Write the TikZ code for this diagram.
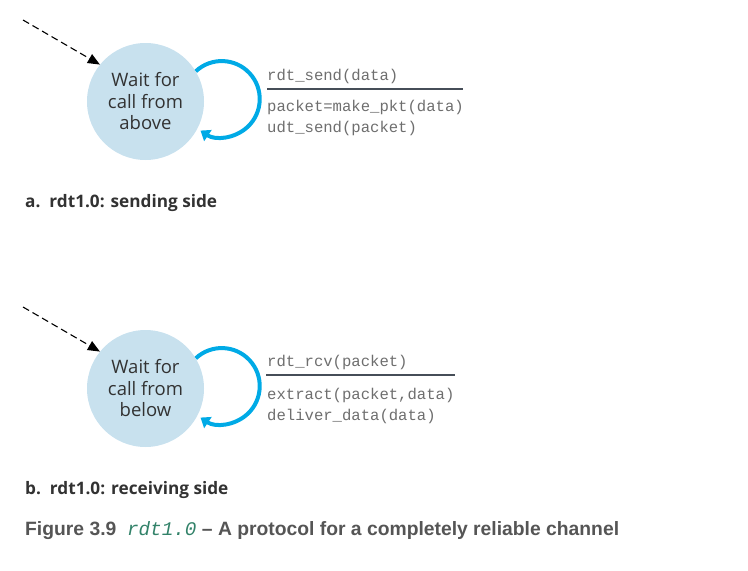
\documentclass[tikz,border=0pt]{standalone}
\usepackage{fontspec}
\setmainfont{Open Sans}
\newfontfamily\capfont{Liberation Sans}
\setmonofont{Liberation Mono}
\usetikzlibrary{arrows.meta}
\definecolor{statefill}{RGB}{200,225,238}
\definecolor{loopblue}{RGB}{0,170,230}
\definecolor{codegray}{RGB}{110,110,110}
\definecolor{textgray}{RGB}{50,50,50}
\definecolor{rulegray}{RGB}{70,78,88}
\definecolor{capgray}{RGB}{85,85,85}
\definecolor{capgreen}{RGB}{50,130,105}
\begin{document}
\begin{tikzpicture}
    [ x=1pt, y=-1pt
    , state/.style={circle,fill=statefill,minimum size=117pt,inner sep=0pt,
        align=center,text=textgray,font=\fontsize{18.5}{21.5}\selectfont}
    , selfloop/.style={draw=loopblue,line width=4pt,-{Triangle[length=9pt,width=13pt]}}
    , entry/.style={draw=black,line width=1.1pt,dash pattern=on 7pt off 4pt,
        -{Triangle[length=12pt,width=10pt]}}
    , code/.style={anchor=base west,inner sep=0pt,text=codegray,
        font=\ttfamily\fontsize{15.6}{18}\selectfont}
    , sidelabel/.style={anchor=base west,inner sep=0pt,text=textgray,
        font=\bfseries\fontsize{17.2}{20}\selectfont}
    ]

    \useasboundingbox (0,0) rectangle (748,571);

    % sending side
    \node [state] (sa) at (145.5,101.5) {Wait for\\call from\\above};
    \coordinate (ina) at (23,20);
    \draw [entry] (ina) -- (sa.141);
    \draw [selfloop] (sa.31) arc [start angle=-133, end angle=124, radius=38];

    \node [code] (evta) at (267,80) {rdt\_send(data)};
    \node [code] (acta1) at (267,111) {packet=make\_pkt(data)};
    \node [code] (acta2) at (267,132) {udt\_send(packet)};
    \coordinate (rula) at (267,89);
    \draw [rulegray, line width=1.4pt] (rula) -- ++(196,0);

    \node [sidelabel] (laba) at (25,207) {a.\ \ rdt1.0: sending side};

    % receiving side
    \node [state] (sb) at (145.5,388.5) {Wait for\\call from\\below};
    \coordinate (inb) at (23,307);
    \draw [entry] (inb) -- (sb.141);
    \draw [selfloop] (sb.31) arc [start angle=-133, end angle=124, radius=38];

    \node [code] (evtb) at (267,366) {rdt\_rcv(packet)};
    \node [code] (actb1) at (267,399) {extract(packet,data)};
    \node [code] (actb2) at (267,420) {deliver\_data(data)};
    \coordinate (rulb) at (266,375);
    \draw [rulegray, line width=1.4pt] (rulb) -- ++(189,0);

    \node [sidelabel] (labb) at (25,494) {b.\ \ rdt1.0: receiving side};

    % caption
    \node [anchor=base west, inner sep=0pt, text=capgray,
        font=\capfont\bfseries\fontsize{19.3}{22}\selectfont] (cap) at (25,535)
      {Figure 3.9\ \ {\color{capgreen}\mdseries\ttfamily\itshape rdt1.0} \textendash{} A protocol for a completely reliable channel};
  \end{tikzpicture}
\end{document}
